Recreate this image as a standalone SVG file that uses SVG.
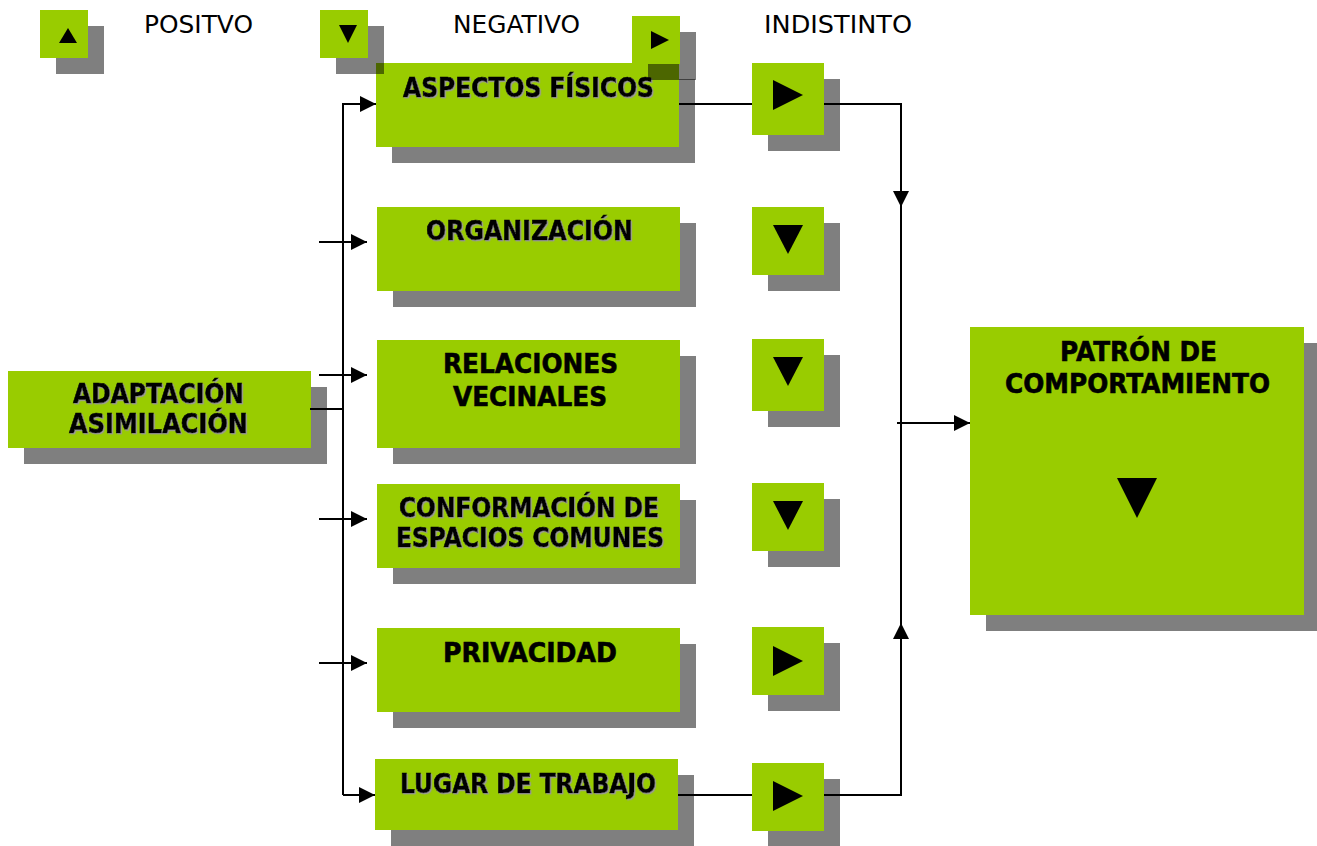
<svg xmlns="http://www.w3.org/2000/svg" width="1317" height="846" viewBox="0 0 1317 846">
<defs>
<style>
.box{fill:#99CC00}
.sh{fill:#000;fill-opacity:0.5}
.tri{fill:#000}
.t{font-family:"DejaVu Sans","Liberation Sans",sans-serif;font-weight:bold;font-size:27px;fill:#000;stroke:#000;stroke-width:0.6}
.ts{filter:url(#tshadow)}
.lg{font-family:"DejaVu Sans","Liberation Sans",sans-serif;font-size:25px;fill:#000}
.c{fill:none;stroke:#000;stroke-width:2}
</style>
<filter id="tshadow" x="-5%" y="-20%" width="110%" height="140%">
<feDropShadow dx="1.2" dy="1.2" stdDeviation="0.3" flood-color="#9a9a9a" flood-opacity="1"/>
</filter>
<marker id="ah" markerUnits="userSpaceOnUse" markerWidth="16" markerHeight="16" refX="16" refY="8" orient="auto" viewBox="0 0 16 16">
<path d="M0,0 L16,8 L0,16 z" fill="#000"/>
</marker>
</defs>
<rect width="1317" height="846" fill="#fff"/>

<g id="node-adaptacion">
<rect class="sh" x="24" y="387" width="303" height="77"/>
<rect class="box" x="8" y="371" width="303" height="77"/>
<text class="t ts" x="73" y="403" textLength="171" lengthAdjust="spacingAndGlyphs">ADAPTACIÓN</text>
<text class="t ts" x="69" y="433" textLength="179" lengthAdjust="spacingAndGlyphs">ASIMILACIÓN</text>
</g>

<g id="node-aspectos">
<rect class="sh" x="392" y="79" width="303" height="84"/>
<rect class="box" x="376" y="63" width="303" height="84"/>
<text class="t ts" x="403" y="97" textLength="251" lengthAdjust="spacingAndGlyphs">ASPECTOS FÍSICOS</text>
</g>

<g id="node-organizacion">
<rect class="sh" x="393" y="223" width="303" height="84"/>
<rect class="box" x="377" y="207" width="303" height="84"/>
<text class="t ts" x="426" y="240" textLength="207" lengthAdjust="spacingAndGlyphs">ORGANIZACIÓN</text>
</g>

<g id="node-relaciones">
<rect class="sh" x="393" y="356" width="303" height="108"/>
<rect class="box" x="377" y="340" width="303" height="108"/>
<text class="t" x="443" y="373" textLength="175" lengthAdjust="spacingAndGlyphs">RELACIONES</text>
<text class="t" x="453" y="406" textLength="154" lengthAdjust="spacingAndGlyphs">VECINALES</text>
</g>

<g id="node-conformacion">
<rect class="sh" x="393" y="500" width="303" height="84"/>
<rect class="box" x="377" y="484" width="303" height="84"/>
<text class="t ts" x="399" y="517" textLength="260" lengthAdjust="spacingAndGlyphs">CONFORMACIÓN DE</text>
<text class="t ts" x="396" y="547" textLength="268" lengthAdjust="spacingAndGlyphs">ESPACIOS COMUNES</text>
</g>

<g id="node-privacidad">
<rect class="sh" x="393" y="644" width="303" height="84"/>
<rect class="box" x="377" y="628" width="303" height="84"/>
<text class="t" x="443" y="662" textLength="174" lengthAdjust="spacingAndGlyphs">PRIVACIDAD</text>
</g>

<g id="node-lugar">
<rect class="sh" x="391" y="775" width="303" height="71"/>
<rect class="box" x="375" y="759" width="303" height="71"/>
<text class="t ts" x="400" y="793" textLength="256" lengthAdjust="spacingAndGlyphs">LUGAR DE TRABAJO</text>
</g>

<g id="node-patron">
<rect class="sh" x="986" y="343" width="334" height="288"/>
<rect class="box" x="970" y="327" width="334" height="288"/>
<text class="t" x="1060" y="361" textLength="157" lengthAdjust="spacingAndGlyphs">PATRÓN DE</text>
<text class="t" x="1005" y="393" textLength="265" lengthAdjust="spacingAndGlyphs">COMPORTAMIENTO</text>
<polygon class="tri" points="1117,478 1157,478 1137,518"/>
</g>

<g id="ind-aspectos">
<rect class="sh" x="768" y="79" width="72" height="72"/>
<rect class="box" x="752" y="63" width="72" height="72"/>
<polygon class="tri" points="773,80 803,95 773,110"/>
</g>
<g id="ind-organizacion">
<rect class="sh" x="768" y="223" width="72" height="68"/>
<rect class="box" x="752" y="207" width="72" height="68"/>
<polygon class="tri" points="773,225 803,225 788,254"/>
</g>
<g id="ind-relaciones">
<rect class="sh" x="768" y="355" width="72" height="72"/>
<rect class="box" x="752" y="339" width="72" height="72"/>
<polygon class="tri" points="773,357 803,357 788,386"/>
</g>
<g id="ind-conformacion">
<rect class="sh" x="768" y="499" width="72" height="68"/>
<rect class="box" x="752" y="483" width="72" height="68"/>
<polygon class="tri" points="773,501 803,501 788,530"/>
</g>
<g id="ind-privacidad">
<rect class="sh" x="768" y="643" width="72" height="68"/>
<rect class="box" x="752" y="627" width="72" height="68"/>
<polygon class="tri" points="773,646 803,661 773,676"/>
</g>
<g id="ind-lugar">
<rect class="sh" x="768" y="779" width="72" height="68"/>
<rect class="box" x="752" y="763" width="72" height="68"/>
<polygon class="tri" points="773,781 803,796 773,811"/>
</g>

<g id="connectors">
<path class="c" d="M310,409 H343"/>
<path class="c" d="M343,795 V104 H376" marker-end="url(#ah)"/>
<path class="c" d="M343,795 H375" marker-end="url(#ah)"/>
<path class="c" d="M319,242 H367" marker-end="url(#ah)"/>
<path class="c" d="M319,375 H367" marker-end="url(#ah)"/>
<path class="c" d="M319,519 H367" marker-end="url(#ah)"/>
<path class="c" d="M319,663 H367" marker-end="url(#ah)"/>
<path class="c" d="M679,104 H752"/>
<path class="c" d="M678,795 H752"/>
<path class="c" d="M824,104 H901 V207" marker-end="url(#ah)"/>
<path class="c" d="M824,795 H901 V623" marker-end="url(#ah)"/>
<path class="c" d="M901,200 V630"/>
<path class="c" d="M897,423 H970" marker-end="url(#ah)"/>
</g>

<g id="legend">
<rect class="sh" x="56" y="26" width="48" height="48"/>
<rect class="box" x="40" y="10" width="48" height="48"/>
<polygon class="tri" points="59,43 77,43 68,28"/>
<text class="lg" x="144" y="33" textLength="109" lengthAdjust="spacingAndGlyphs">POSITVO</text>
<rect class="sh" x="336" y="26" width="48" height="48"/>
<rect class="box" x="320" y="10" width="48" height="48"/>
<polygon class="tri" points="339,25 357,25 348,43"/>
<text class="lg" x="453" y="33" textLength="127" lengthAdjust="spacingAndGlyphs">NEGATIVO</text>
<rect class="sh" x="648" y="32" width="48" height="48"/>
<rect class="box" x="632" y="16" width="48" height="48"/>
<polygon class="tri" points="651,31 669,40 651,49"/>
<text class="lg" x="764" y="33" textLength="148" lengthAdjust="spacingAndGlyphs">INDISTINTO</text>
</g>
</svg>
